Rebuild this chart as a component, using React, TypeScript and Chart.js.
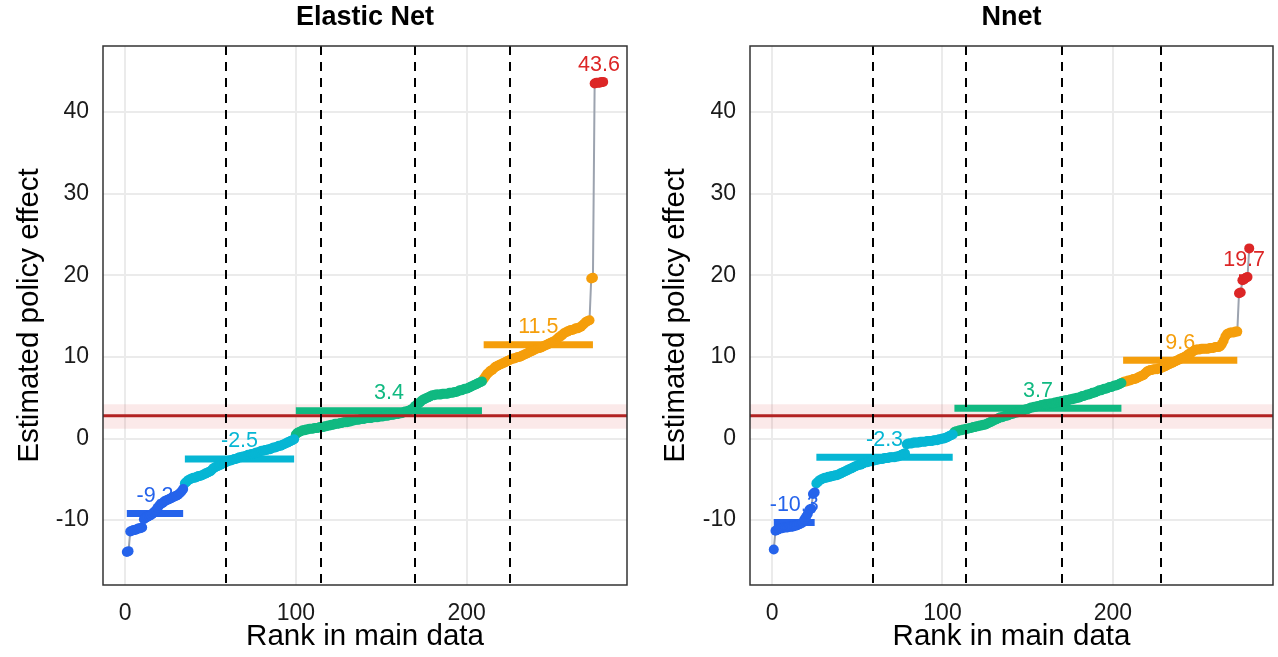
import React, { useEffect, useRef } from "react";
import { Chart, registerables } from "chart.js";

Chart.register(...registerables);

const FONT = "'Liberation Sans', Arial, Helvetica, sans-serif";

// ---------- text ----------
const panelTitles = ["Elastic Net", "Nnet"];
const xAxisTitle = "Rank in main data";
const yAxisTitle = "Estimated policy effect";
const xTickValues = [0, 100, 200];
const yTickValues = [-10, 0, 10, 20, 30, 40];

// ---------- colours of the five groups ----------
const groupColors = ["#2563EB", "#06B6D4", "#10B981", "#F59E0B", "#DC2626"];

// ---------- reference effect (red line and band) ----------
const refEffect = 2.8;
const refLow = 1.2;
const refHigh = 4.2;

// ---------- Elastic Net: sorted estimates per group ----------
const elasticBlue = [-13.9, -13.8, -11.4, -11.3, -11.2, -11.2, -11.1, -11.0, -11.0, -10.9, -9.9, -9.7, -9.6, -9.5, -9.4, -9.2, -9.0, -8.8, -8.5, -8.2, -8.0, -7.9, -7.7, -7.6, -7.5, -7.4, -7.3, -7.2, -7.1, -7.0, -6.9, -6.7, -6.5, -6.2];
const elasticCyan = [-5.5, -5.3, -5.1, -5.0, -4.9, -4.8, -4.8, -4.7, -4.6, -4.6, -4.5, -4.4, -4.3, -4.2, -4.1, -4.0, -3.8, -3.6, -3.5, -3.4, -3.3, -3.2, -3.1, -3.0, -2.9, -2.8, -2.7, -2.7, -2.6, -2.5, -2.5, -2.4, -2.3, -2.3, -2.2, -2.2, -2.1, -2.0, -2.0, -1.9, -1.9, -1.8, -1.7, -1.7, -1.6, -1.5, -1.5, -1.4, -1.4, -1.3, -1.3, -1.2, -1.1, -1.1, -1.0, -0.9, -0.9, -0.8, -0.7, -0.6, -0.5, -0.4, -0.3, -0.2, -0.1];
const elasticGreen = [0.5, 0.7, 0.8, 0.9, 1.0, 1.0, 1.1, 1.1, 1.2, 1.2, 1.2, 1.3, 1.3, 1.3, 1.4, 1.4, 1.4, 1.5, 1.5, 1.6, 1.6, 1.7, 1.7, 1.8, 1.8, 1.8, 1.9, 1.9, 2.0, 2.0, 2.0, 2.1, 2.1, 2.2, 2.2, 2.3, 2.3, 2.3, 2.4, 2.4, 2.4, 2.5, 2.5, 2.5, 2.5, 2.6, 2.6, 2.6, 2.6, 2.7, 2.7, 2.7, 2.8, 2.8, 2.8, 2.9, 2.9, 2.9, 3.0, 3.0, 3.0, 3.1, 3.1, 3.2, 3.3, 3.3, 3.4, 3.5, 3.6, 3.8, 4.0, 4.2, 4.3, 4.5, 4.7, 4.8, 4.9, 5.0, 5.1, 5.2, 5.3, 5.3, 5.4, 5.4, 5.4, 5.4, 5.5, 5.5, 5.5, 5.5, 5.6, 5.6, 5.6, 5.7, 5.7, 5.8, 5.9, 5.9, 6.0, 6.1, 6.1, 6.2, 6.3, 6.4, 6.5, 6.6, 6.7, 6.8, 6.9, 7.0];
const elasticOrange = [7.3, 7.6, 7.9, 8.1, 8.3, 8.4, 8.6, 8.8, 8.9, 9.0, 9.1, 9.2, 9.3, 9.4, 9.5, 9.6, 9.7, 9.8, 9.8, 9.9, 10.0, 10.0, 10.1, 10.2, 10.3, 10.4, 10.5, 10.6, 10.7, 10.8, 10.9, 11.0, 11.1, 11.1, 11.2, 11.3, 11.4, 11.5, 11.6, 11.7, 11.8, 11.9, 12.0, 12.2, 12.4, 12.5, 12.7, 12.9, 13.0, 13.1, 13.2, 13.3, 13.3, 13.4, 13.5, 13.5, 13.6, 13.7, 13.9, 14.1, 14.3, 14.4, 14.5, 19.6, 19.7];
const elasticRed = [43.5, 43.6, 43.6, 43.6, 43.7, 43.7];
const elasticMeans = [-9.2, -2.5, 3.4, 11.5, 43.6];
const elasticCutoffs = [59, 114.6, 169.6, 225.3];

// ---------- Nnet: sorted estimates per group ----------
const nnetBlue = [-13.6, -11.3, -11.2, -11.1, -11.0, -11.0, -10.9, -10.9, -10.9, -10.8, -10.8, -10.8, -10.7, -10.7, -10.6, -10.5, -10.4, -10.3, -9.9, -9.6, -9.2, -8.7, -8.6, -6.8, -6.6];
const nnetCyan = [-5.5, -5.3, -5.1, -5.0, -4.9, -4.8, -4.8, -4.7, -4.7, -4.6, -4.6, -4.5, -4.5, -4.4, -4.3, -4.2, -4.1, -4.0, -3.9, -3.8, -3.7, -3.6, -3.5, -3.4, -3.3, -3.2, -3.2, -3.1, -3.0, -2.9, -2.9, -2.8, -2.8, -2.7, -2.7, -2.6, -2.6, -2.5, -2.5, -2.5, -2.4, -2.4, -2.4, -2.3, -2.3, -2.3, -2.3, -2.2, -2.2, -2.1, -2.0, -1.9, -1.8, -0.7, -0.6, -0.6, -0.6, -0.5, -0.5, -0.5, -0.5, -0.4, -0.4, -0.4, -0.4, -0.3, -0.3, -0.3, -0.3, -0.2, -0.2, -0.2, -0.1, -0.1, 0.0, 0.0, 0.1, 0.2, 0.3, 0.4, 0.5];
const nnetGreen = [0.8, 0.9, 0.9, 1.0, 1.0, 1.1, 1.1, 1.2, 1.2, 1.3, 1.3, 1.4, 1.4, 1.5, 1.5, 1.6, 1.6, 1.7, 1.7, 1.8, 1.9, 2.0, 2.1, 2.2, 2.3, 2.4, 2.5, 2.6, 2.6, 2.7, 2.8, 2.8, 2.9, 3.0, 3.0, 3.1, 3.2, 3.2, 3.3, 3.4, 3.4, 3.5, 3.6, 3.6, 3.7, 3.8, 3.8, 3.9, 3.9, 4.0, 4.0, 4.1, 4.1, 4.2, 4.2, 4.2, 4.3, 4.3, 4.3, 4.4, 4.4, 4.5, 4.5, 4.6, 4.6, 4.7, 4.7, 4.7, 4.8, 4.8, 4.9, 4.9, 5.0, 5.0, 5.1, 5.2, 5.2, 5.3, 5.4, 5.4, 5.5, 5.6, 5.6, 5.7, 5.8, 5.9, 5.9, 6.0, 6.1, 6.1, 6.2, 6.3, 6.3, 6.4, 6.5, 6.5, 6.6, 6.7, 6.8];
const nnetOrange = [6.9, 7.0, 7.0, 7.1, 7.1, 7.2, 7.3, 7.3, 7.4, 7.5, 7.6, 7.7, 7.8, 8.0, 8.2, 8.3, 8.4, 8.4, 8.5, 8.5, 8.5, 8.6, 8.6, 8.7, 8.8, 8.9, 9.0, 9.1, 9.2, 9.3, 9.4, 9.5, 9.6, 9.7, 9.8, 9.9, 10.0, 10.1, 10.3, 10.4, 10.5, 10.7, 10.8, 10.9, 10.9, 10.9, 11.0, 11.0, 11.0, 11.0, 11.0, 11.1, 11.1, 11.1, 11.2, 11.2, 11.2, 11.3, 11.6, 12.0, 12.5, 12.8, 12.9, 13.0, 13.0, 13.0, 13.1, 13.1];
const nnetRed = [17.8, 17.9, 19.4, 19.5, 19.7, 19.8, 23.3];
const nnetMeans = [-10.3, -2.3, 3.7, 9.6, 19.7];
const nnetCutoffs = [59.5, 114, 170.2, 228];

// ---------- axis ranges ----------
const xRange = [-12.95, 293.95];
const yRange = [-17.95, 48.1];

type PanelSpec = {
  title: string;
  groups: number[][];
  means: number[];
  cutoffs: number[];
  yAxisWidth: number;
  rightPad: number;
  yTitleX: number;
};

const CANVAS_W = 639;
const CANVAS_H = 657;

function makeChart(canvas: HTMLCanvasElement, spec: PanelSpec) {
  const allPts: { x: number; y: number }[] = [];
  const groupPts: { x: number; y: number }[][] = [];
  let rank = 1;
  spec.groups.forEach((vals) => {
    const pts = vals.map((v) => ({ x: rank++, y: v }));
    groupPts.push(pts);
    allPts.push(...pts);
  });

  const datasets: any[] = [];
  datasets.push({
    data: allPts,
    showLine: true,
    borderColor: "#9CA3AF",
    borderWidth: 2,
    pointRadius: 0,
    order: 3,
  });
  groupPts.forEach((pts, gi) => {
    datasets.push({
      data: [
        { x: pts[0].x, y: spec.means[gi] },
        { x: pts[pts.length - 1].x, y: spec.means[gi] },
      ],
      showLine: true,
      borderColor: groupColors[gi],
      borderWidth: 7,
      borderCapStyle: "butt",
      pointRadius: 0,
      order: 2,
    });
  });
  groupPts.forEach((pts, gi) => {
    datasets.push({
      data: pts,
      showLine: false,
      backgroundColor: groupColors[gi],
      borderColor: groupColors[gi],
      borderWidth: 0,
      pointRadius: 5,
      order: 1,
    });
  });

  const decor = {
    id: "decor",
    beforeDatasetsDraw(chart: any) {
      const { ctx, chartArea: a, scales } = chart;
      const y = scales.y;
      ctx.save();
      const yHi = y.getPixelForValue(refHigh);
      const yLo = y.getPixelForValue(refLow);
      ctx.fillStyle = "rgba(220,38,38,0.1)";
      ctx.fillRect(a.left, yHi, a.right - a.left, yLo - yHi);
      ctx.restore();
    },
    afterDatasetsDraw(chart: any) {
      const { ctx, chartArea: a, scales } = chart;
      const x = scales.x;
      const y = scales.y;
      ctx.save();
      const yr = y.getPixelForValue(refEffect);
      ctx.strokeStyle = "#B22222";
      ctx.lineWidth = 3;
      ctx.beginPath();
      ctx.moveTo(a.left, yr);
      ctx.lineTo(a.right, yr);
      ctx.stroke();
      ctx.strokeStyle = "#000000";
      ctx.lineWidth = 2;
      ctx.setLineDash([9, 7]);
      spec.cutoffs.forEach((c) => {
        const px = Math.round(x.getPixelForValue(c));
        ctx.beginPath();
        ctx.moveTo(px, a.top);
        ctx.lineTo(px, a.bottom);
        ctx.stroke();
      });
      ctx.setLineDash([]);
      ctx.font = `21.5px ${FONT}`;
      ctx.textAlign = "center";
      ctx.textBaseline = "middle";
      groupPts.forEach((pts, gi) => {
        const cx = (pts[0].x + pts[pts.length - 1].x) / 2;
        ctx.fillStyle = groupColors[gi];
        ctx.fillText(
          spec.means[gi].toFixed(1),
          x.getPixelForValue(cx),
          y.getPixelForValue(spec.means[gi] + 2.15)
        );
      });
      ctx.strokeStyle = "#333333";
      ctx.lineWidth = 1.5;
      ctx.strokeRect(a.left, a.top, a.right - a.left, a.bottom - a.top);
      ctx.fillStyle = "#000000";
      ctx.textAlign = "center";
      ctx.textBaseline = "alphabetic";
      ctx.font = `bold 27px ${FONT}`;
      ctx.fillText(spec.title, (a.left + a.right) / 2, 25);
      ctx.font = `29.5px ${FONT}`;
      ctx.fillText(xAxisTitle, (a.left + a.right) / 2, 645);
      ctx.save();
      ctx.translate(spec.yTitleX, (a.top + a.bottom) / 2);
      ctx.rotate(-Math.PI / 2);
      ctx.textBaseline = "middle";
      ctx.fillText(yAxisTitle, 0, 0);
      ctx.restore();
      ctx.restore();
    },
  };

  return new Chart(canvas, {
    type: "scatter",
    data: { datasets },
    options: {
      animation: false,
      responsive: false,
      maintainAspectRatio: false,
      devicePixelRatio: 1,
      layout: { padding: { top: 46, right: spec.rightPad, bottom: 0, left: 0 } },
      plugins: {
        legend: { display: false },
        tooltip: { enabled: false },
        title: { display: false },
      },
      scales: {
        x: {
          type: "linear",
          min: xRange[0],
          max: xRange[1],
          afterBuildTicks: (s: any) => {
            s.ticks = xTickValues.map((v) => ({ value: v }));
          },
          afterFit: (s: any) => {
            s.height = 72;
          },
          grid: { color: "#EBEBEB", lineWidth: 2, drawTicks: false },
          border: { display: false },
          ticks: {
            font: { size: 23, family: FONT },
            color: "#1A1A1A",
            padding: 15,
            maxRotation: 0,
            autoSkip: false,
          },
        },
        y: {
          type: "linear",
          min: yRange[0],
          max: yRange[1],
          afterBuildTicks: (s: any) => {
            s.ticks = yTickValues.map((v) => ({ value: v }));
          },
          afterFit: (s: any) => {
            s.width = spec.yAxisWidth;
          },
          grid: { color: "#EBEBEB", lineWidth: 2, drawTicks: false },
          border: { display: false },
          ticks: {
            font: { size: 23, family: FONT },
            color: "#1A1A1A",
            padding: 14,
            autoSkip: false,
          },
        },
      },
    },
    plugins: [decor],
  } as any);
}

function Panel({ spec }: { spec: PanelSpec }) {
  const ref = useRef<HTMLCanvasElement | null>(null);
  useEffect(() => {
    if (!ref.current) return;
    const chart = makeChart(ref.current, spec);
    return () => chart.destroy();
  }, [spec]);
  return (
    <canvas
      ref={ref}
      width={CANVAS_W}
      height={CANVAS_H}
      style={{ width: CANVAS_W, height: CANVAS_H, display: "block" }}
    />
  );
}

const elasticSpec: PanelSpec = {
  title: panelTitles[0],
  groups: [elasticBlue, elasticCyan, elasticGreen, elasticOrange, elasticRed],
  means: elasticMeans,
  cutoffs: elasticCutoffs,
  yAxisWidth: 103,
  rightPad: 12,
  yTitleX: 30,
};

const nnetSpec: PanelSpec = {
  title: panelTitles[1],
  groups: [nnetBlue, nnetCyan, nnetGreen, nnetOrange, nnetRed],
  means: nnetMeans,
  cutoffs: nnetCutoffs,
  yAxisWidth: 111,
  rightPad: 5,
  yTitleX: 37,
};

export default function App() {
  return (
    <div
      style={{
        position: "absolute",
        left: 0,
        top: 0,
        width: 1278,
        height: 657,
        display: "flex",
        background: "#FFFFFF",
      }}
    >
      <Panel spec={elasticSpec} />
      <Panel spec={nnetSpec} />
    </div>
  );
}
